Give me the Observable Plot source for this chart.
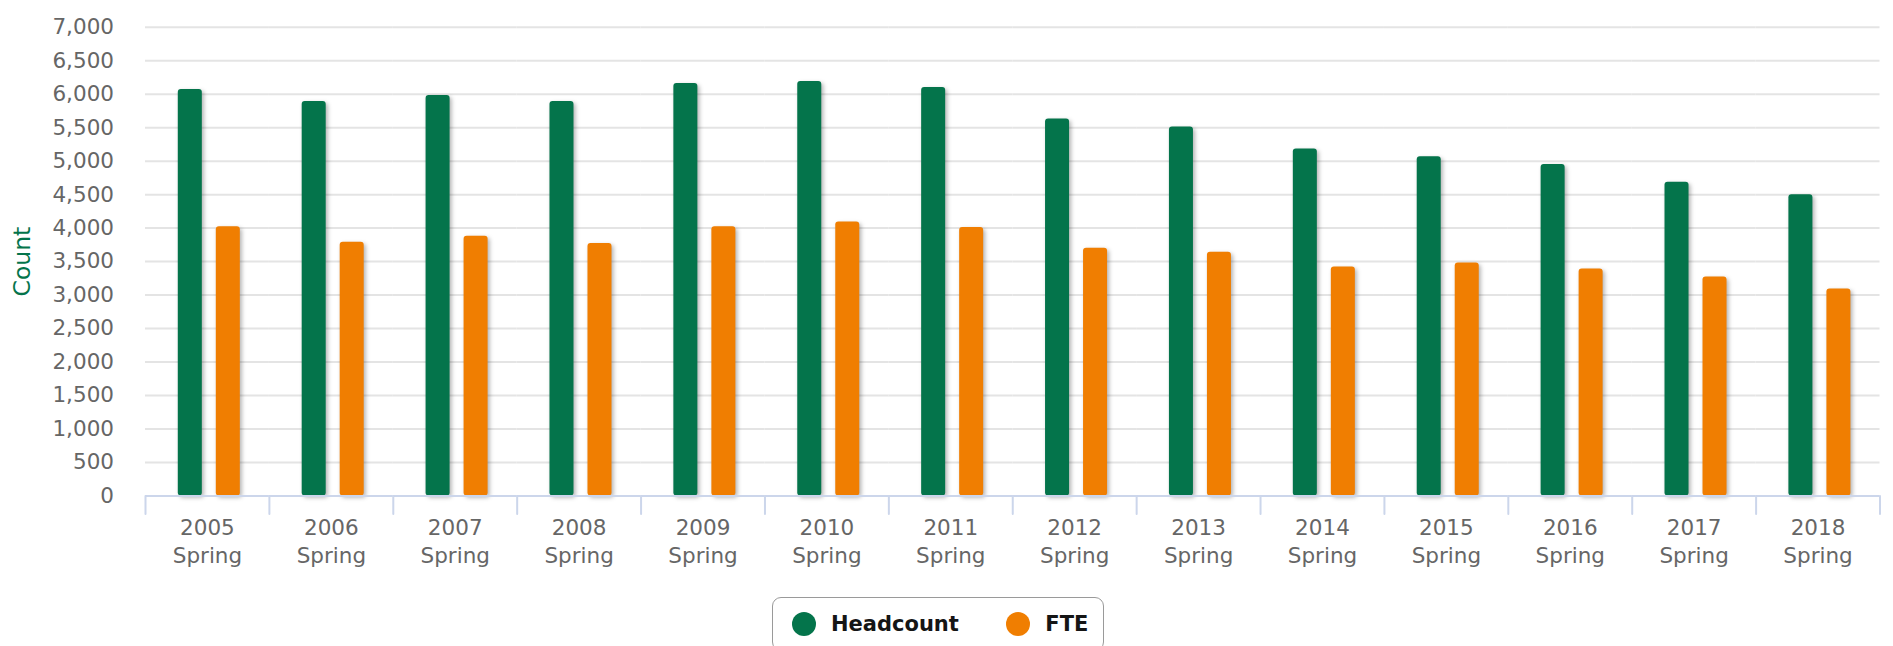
<!DOCTYPE html>
<html>
<head>
<meta charset="utf-8">
<script src="https://cdn.jsdelivr.net/npm/d3@7"></script>
<script src="https://cdn.jsdelivr.net/npm/@observablehq/plot@0.6"></script>
<style>
  html, body { margin: 0; padding: 0; background: #fff; }
  #chart svg { display: block; }
  g[aria-label="bar"] rect { filter: drop-shadow(2px 2px 2px rgba(0,0,0,0.3)); }
  .legend {
    margin-left: 772px; margin-top: 7px;
    display: inline-flex; align-items: center;
    border: 1.5px solid #9a9a9a; border-radius: 9px;
    padding: 14px 15px 14px 18.5px;
    font-family: "DejaVu Sans", sans-serif; font-weight: bold; font-size: 21px; color: #151515;
  }
  .legend .item { display: inline-flex; align-items: center; }
  .legend .sw { width: 24px; height: 24px; border-radius: 50%; margin-right: 15.5px; }
  .legend .item + .item { margin-left: 47px; }
</style>
</head>
<body>
<div id="chart"></div>
<div id="legend"></div>
<script>
const categories = ["2005 Spring", "2006 Spring", "2007 Spring", "2008 Spring", "2009 Spring", "2010 Spring", "2011 Spring",
  "2012 Spring", "2013 Spring", "2014 Spring", "2015 Spring", "2016 Spring", "2017 Spring", "2018 Spring"];
const seriesNames = ["Headcount", "FTE"];
const headcount = [6070, 5890, 5980, 5890, 6160, 6190, 6100, 5630, 5510, 5180, 5065, 4950, 4685, 4500];
const fte = [4020, 3790, 3880, 3770, 4020, 4090, 4010, 3700, 3640, 3420, 3480, 3390, 3270, 3090];
const yTicks = d3.range(0, 7001, 500);
const colors = ["#04744b", "#f07e01"];

const rows = categories.flatMap((c, i) => [
  {cat: c, series: seriesNames[0], value: headcount[i]},
  {cat: c, series: seriesNames[1], value: fte[i]}
]);

const chart = Plot.plot({
  width: 1893,
  height: 590,
  marginLeft: 145,
  marginRight: 13.5,
  marginTop: 26.7,
  marginBottom: 94.5,
  style: {fontFamily: "'DejaVu Sans', sans-serif", background: "#fff"},
  fx: {domain: categories, padding: 0, round: false},
  x: {domain: seriesNames, paddingInner: 0.368, paddingOuter: 0.814, align: 0.53, round: false, axis: null},
  y: {domain: [0, 7000]},
  color: {domain: seriesNames, range: colors},
  marks: [
    Plot.gridY(yTicks.filter(d => d > 0), {stroke: "#e4e4e4", strokeOpacity: 1, strokeWidth: 2}),
    Plot.barY(rows, {fx: "cat", x: "series", y: "value", fill: "series", rx: 3}),
    Plot.ruleY([0], {stroke: "#ccd6eb", strokeWidth: 2}),
    Plot.vector(categories, {fx: d => d, frameAnchor: "bottom-left", length: 18, rotate: 180, anchor: "start",
      shape: "spike", r: 0, stroke: "#ccd6eb", fill: "none", strokeWidth: 2}),
    Plot.vector([categories[categories.length - 1]], {fx: d => d, frameAnchor: "bottom-right", length: 18, rotate: 180, anchor: "start",
      shape: "spike", r: 0, stroke: "#ccd6eb", fill: "none", strokeWidth: 2}),
    Plot.axisY({ticks: yTicks, tickSize: 0, tickPadding: 31.5, tickFormat: d3.format(","), fontSize: 21.5, fill: "#666", label: null}),
    Plot.axisY({ticks: [], tickSize: 0, label: "Count", labelAnchor: "center", labelArrow: "none", labelOffset: 132,
      fill: "#04744b", fontSize: 23.5}),
    Plot.axisFx({anchor: "bottom", tickSize: 0, tickPadding: 18.5, fontSize: 21.5, fill: "#666", lineHeight: 1.32,
      tickFormat: d => d.replace(" ", "\n"), label: null})
  ]
});
document.getElementById("chart").appendChild(chart);

const legend = document.createElement("div");
legend.className = "legend";
seriesNames.forEach((name, i) => {
  const item = document.createElement("span");
  item.className = "item";
  const sw = document.createElement("span");
  sw.className = "sw";
  sw.style.background = colors[i];
  const label = document.createElement("span");
  label.textContent = name;
  item.appendChild(sw);
  item.appendChild(label);
  legend.appendChild(item);
});
document.getElementById("legend").appendChild(legend);
</script>
</body>
</html>
